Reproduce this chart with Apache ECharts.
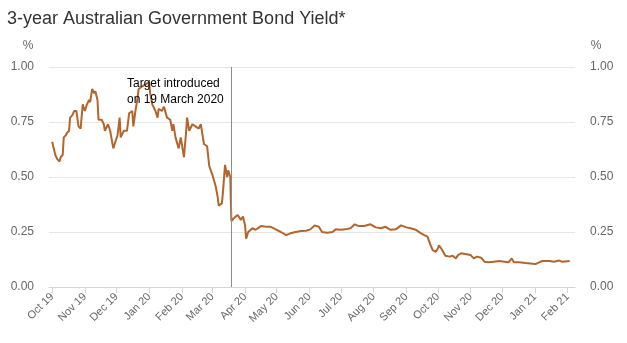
<!DOCTYPE html>
<html><head><meta charset="utf-8">
<script src="https://cdn.jsdelivr.net/npm/echarts@6/dist/echarts.min.js"></script>
<style>html,body{margin:0;padding:0;background:#fff}#c{width:627px;height:343px}</style>
</head><body><div id="c"></div>
<script>
const titleText = '3-year Australian Government Bond Yield*';
const dates = [
'2019-10-01','2019-10-03','2019-10-04','2019-10-06','2019-10-08','2019-10-09','2019-10-11','2019-10-12','2019-10-14','2019-10-15','2019-10-17','2019-10-18','2019-10-20','2019-10-22','2019-10-24','2019-10-26','2019-10-28','2019-10-30','2019-11-01','2019-11-03','2019-11-05','2019-11-06','2019-11-08','2019-11-10','2019-11-11','2019-11-13','2019-11-14','2019-11-17','2019-11-19','2019-11-20','2019-11-23','2019-11-25','2019-11-28','2019-11-30','2019-12-02','2019-12-04','2019-12-05','2019-12-08','2019-12-11','2019-12-13','2019-12-16','2019-12-17','2019-12-19','2019-12-21','2019-12-22','2019-12-25','2019-12-28','2020-01-01','2020-01-02','2020-01-04','2020-01-06','2020-01-07','2020-01-09','2020-01-10','2020-01-13','2020-01-15','2020-01-18','2020-01-21','2020-01-23','2020-01-24','2020-01-26','2020-01-29','2020-01-31','2020-02-03','2020-02-05','2020-02-06','2020-02-08','2020-02-11','2020-02-14','2020-02-17','2020-02-19','2020-02-22','2020-02-25','2020-02-27','2020-03-01','2020-03-04','2020-03-06','2020-03-07','2020-03-10','2020-03-11','2020-03-13','2020-03-15','2020-03-16','2020-03-18',
'2020-03-19','2020-03-23','2020-03-25','2020-03-28','2020-03-30','2020-04-01','2020-04-02','2020-04-04','2020-04-08','2020-04-11','2020-04-16','2020-04-21','2020-04-25','2020-04-30','2020-05-05','2020-05-10','2020-05-14','2020-05-19','2020-05-24','2020-05-29','2020-06-02','2020-06-06','2020-06-10','2020-06-13','2020-06-18','2020-06-23','2020-06-26','2020-07-01','2020-07-05','2020-07-10','2020-07-14','2020-07-18','2020-07-23','2020-07-29','2020-08-03','2020-08-08','2020-08-12','2020-08-17','2020-08-22','2020-08-27','2020-09-01','2020-09-05','2020-09-10','2020-09-15','2020-09-18','2020-09-21','2020-09-24','2020-09-26','2020-09-29','2020-10-01','2020-10-02','2020-10-05','2020-10-08','2020-10-12','2020-10-15','2020-10-18','2020-10-20','2020-10-23','2020-10-28','2020-11-01','2020-11-04','2020-11-07','2020-11-11','2020-11-14','2020-11-18','2020-11-23','2020-11-28','2020-12-03','2020-12-07','2020-12-10','2020-12-12','2020-12-17','2020-12-23','2020-12-30','2021-01-02','2021-01-05','2021-01-08','2021-01-15','2021-01-19','2021-01-24','2021-01-27','2021-02-03'
];
const yields = [
0.66,0.62,0.60,0.58,0.57,0.59,0.60,0.68,0.69,0.70,0.71,0.77,0.78,0.80,0.80,0.73,0.72,0.83,0.80,0.83,0.85,0.84,0.90,0.88,0.89,0.85,0.76,0.76,0.74,0.71,0.74,0.71,0.63,0.66,0.69,0.77,0.68,0.71,0.71,0.79,0.80,0.73,0.80,0.86,0.90,0.91,0.92,0.93,0.88,0.83,0.81,0.80,0.77,0.81,0.80,0.82,0.77,0.76,0.71,0.74,0.68,0.63,0.68,0.59,0.70,0.77,0.71,0.74,0.73,0.72,0.74,0.65,0.64,0.55,0.51,0.46,0.41,0.37,0.38,0.43,0.555,0.50,0.53,0.50,
0.30,0.32,0.327,0.305,0.32,0.28,0.22,0.25,0.267,0.26,0.277,0.274,0.274,0.262,0.25,0.236,0.244,0.25,0.255,0.256,0.262,0.28,0.274,0.25,0.247,0.25,0.262,0.26,0.262,0.267,0.285,0.277,0.277,0.285,0.271,0.267,0.274,0.26,0.262,0.28,0.271,0.267,0.26,0.244,0.236,0.229,0.19,0.168,0.16,0.176,0.19,0.168,0.142,0.138,0.142,0.13,0.145,0.153,0.149,0.145,0.13,0.138,0.133,0.115,0.112,0.115,0.118,0.115,0.112,0.13,0.112,0.112,0.109,0.106,0.105,0.112,0.118,0.118,0.115,0.12,0.115,0.118
];
const tickDates = ['2019-10-01','2019-11-01','2019-12-01','2020-01-01','2020-02-01','2020-03-01','2020-04-01','2020-05-01','2020-06-01','2020-07-01','2020-08-01','2020-09-01','2020-10-01','2020-11-01','2020-12-01','2021-01-01','2021-02-01'];
const tickLabels = ['Oct 19','Nov 19','Dec 19','Jan 20','Feb 20','Mar 20','Apr 20','May 20','Jun 20','Jul 20','Aug 20','Sep 20','Oct 20','Nov 20','Dec 20','Jan 21','Feb 21'];
const xRange = ['2019-09-28','2021-02-08'];
const yTicks = [0, 0.25, 0.5, 0.75, 1];
const eventDate = '2020-03-19';
const annotation = {date: '2019-12-11', value: 0.89, text: 'Target introduced\non 19 March 2020'};

const ts = s => { const p = s.split('-').map(Number); return Date.UTC(p[0], p[1] - 1, p[2]); };
const tickTimes = tickDates.map(ts);
const xLabel = v => {
  let best = 0, bd = Infinity;
  tickTimes.forEach((t, i) => { const d = Math.abs(t - v); if (d < bd) { bd = d; best = i; } });
  return tickLabels[best];
};
const font = '"Liberation Sans", Arial, Helvetica, sans-serif';
const yAxisCommon = {
  type: 'value', min: yTicks[0], max: yTicks[yTicks.length - 1], interval: yTicks[1] - yTicks[0],
  axisLine: {show: false}, axisTick: {show: false},
  axisLabel: {color: '#666', fontSize: 12, fontFamily: font, margin: 15, formatter: v => v.toFixed(2)},
  name: '%', nameLocation: 'end', nameGap: 15,
  nameTextStyle: {color: '#666', fontSize: 12, fontFamily: font}
};
const chart = echarts.init(document.getElementById('c'), null, {renderer: 'canvas'});
chart.setOption({
  animation: false,
  title: {text: titleText, left: 2, top: 5, textStyle: {color: '#333', fontSize: 18, fontWeight: 'normal', fontFamily: font}},
  grid: {left: 49, right: 52, top: 67, bottom: 56},
  xAxis: {
    type: 'value', min: ts(xRange[0]), max: ts(xRange[1]),
    axisLine: {lineStyle: {color: '#ccd6eb'}},
    axisTick: {show: true, length: 6, lineStyle: {color: '#ccd6eb'}, customValues: tickTimes},
    axisLabel: {color: '#666', fontSize: 11, fontFamily: font, rotate: 45, margin: 8, customValues: tickTimes, formatter: xLabel},
    splitLine: {show: false}
  },
  yAxis: [
    Object.assign({}, yAxisCommon, {position: 'left', splitLine: {lineStyle: {color: '#e6e6e6'}},
      nameTextStyle: Object.assign({}, yAxisCommon.nameTextStyle, {align: 'center', padding: [0, 42, 0, 0]})}),
    Object.assign({}, yAxisCommon, {position: 'right', splitLine: {show: false},
      nameTextStyle: Object.assign({}, yAxisCommon.nameTextStyle, {align: 'center', padding: [0, 0, 0, 42]})})
  ],
  series: [{
    type: 'line', yAxisIndex: 0, showSymbol: false, symbol: 'none',
    data: dates.map((d, i) => [ts(d), yields[i]]),
    lineStyle: {color: '#b4652b', width: 2}, itemStyle: {color: '#b4652b'},
    z: 3,
    markLine: {
      silent: true, symbol: 'none', animation: false,
      lineStyle: {color: '#8c8c8c', width: 1, type: 'solid'},
      label: {show: false},
      data: [{xAxis: ts(eventDate)}]
    },
    markPoint: {
      silent: true, symbol: 'circle', symbolSize: 0,
      data: [{coord: [ts(annotation.date), annotation.value]}],
      label: {show: true, position: 'inside', align: 'left', verticalAlign: 'middle', color: '#000', fontSize: 12, lineHeight: 16, fontFamily: font, formatter: annotation.text}
    }
  }]
});
</script></body></html>
